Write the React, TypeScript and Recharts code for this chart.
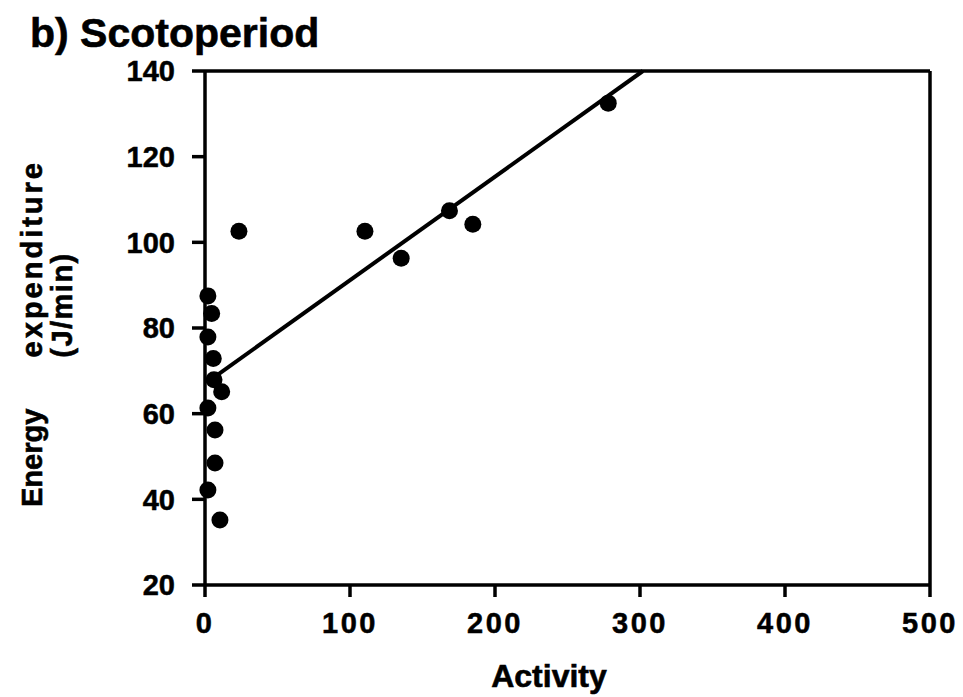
import React from "react";
import { ScatterChart, Scatter, XAxis, YAxis, ReferenceLine } from "recharts";

const activity = [2, 4.6, 2, 5.7, 6.2, 11.5, 2, 6.9, 6.9, 2, 10.3, 23.4, 110.3, 135.3, 168.6, 184.7, 278.1];
const energy = [87.5, 83.4, 77.9, 72.9, 67.9, 65.1, 61.3, 56.2, 48.5, 42.2, 35.2, 102.6, 102.6, 96.3, 107.4, 104.2, 132.5];
const fitActivity = [5.5, 302];
const fitEnergy = [68.3, 140];
const xTicks = [0, 100, 200, 300, 400, 500];
const yTicks = [20, 40, 60, 80, 100, 120, 140];

const points = activity.map((x, i) => ({ x, y: energy[i] }));
const fit = fitActivity.map((x, i) => ({ x, y: fitEnergy[i] }));

const FONT = "'Liberation Sans', Arial, Helvetica, sans-serif";

const Dot = (props: any) => <circle cx={props.cx} cy={props.cy} r={8.5} fill="#000" />;
const NoDot = () => <g />;

const textStyle = { stroke: "#000", strokeWidth: 0.6 };

export default function App() {
  return (
    <div style={{ position: "absolute", left: 0, top: 0, width: 963, height: 697, background: "#fff" }}>
      <ScatterChart width={963} height={697} margin={{ top: 71, right: 33, bottom: 52, left: 0 }}>
        <XAxis
          type="number"
          dataKey="x"
          domain={[0, 500]}
          ticks={xTicks}
          height={60}
          tickSize={12}
          tickMargin={15}
          axisLine={{ stroke: "#000", strokeWidth: 3.5 }}
          tickLine={{ stroke: "#000", strokeWidth: 3.5 }}
          tick={{ fill: "#000", fontSize: 29, fontWeight: 700, fontFamily: FONT, letterSpacing: 2.5, stroke: "#000", strokeWidth: 0.5 }}
          interval={0}
        />
        <YAxis
          type="number"
          dataKey="y"
          domain={[20, 140]}
          ticks={yTicks}
          width={205}
          tickSize={13}
          tickMargin={17}
          axisLine={{ stroke: "#000", strokeWidth: 3.5 }}
          tickLine={{ stroke: "#000", strokeWidth: 3.5 }}
          tick={{ fill: "#000", fontSize: 29, fontWeight: 700, fontFamily: FONT, stroke: "#000", strokeWidth: 0.5 }}
          interval={0}
        />
        <ReferenceLine y={140} stroke="#000" strokeWidth={3.5} />
        <ReferenceLine x={500} stroke="#000" strokeWidth={3.5} />
        <Scatter data={points} fill="#000" shape={Dot} isAnimationActive={false} />
        <Scatter
          data={fit}
          line={{ stroke: "#000", strokeWidth: 4 }}
          shape={NoDot}
          isAnimationActive={false}
        />
      </ScatterChart>
      <svg width={963} height={697} style={{ position: "absolute", left: 0, top: 0, pointerEvents: "none" }}>
        <text x={30} y={47} fontFamily={FONT} fontWeight={700} fontSize={41} fill="#000" style={textStyle}>
          b) Scotoperiod
        </text>
        <text
          x={42}
          y={507}
          transform="rotate(-90 42 507)"
          fontFamily={FONT}
          fontWeight={700}
          fontSize={29}
          fill="#000"
          textAnchor="start"
          style={textStyle}
        >
          Energy
        </text>
        <text
          x={42}
          y={160}
          transform="rotate(-90 42 160)"
          fontFamily={FONT}
          fontWeight={700}
          fontSize={29}
          fill="#000"
          textAnchor="end"
          letterSpacing={3}
          style={textStyle}
        >
          expenditure
        </text>
        <text
          x={72}
          y={305}
          transform="rotate(-90 72 305)"
          fontFamily={FONT}
          fontWeight={700}
          fontSize={29}
          fill="#000"
          textAnchor="middle"
          letterSpacing={1.5}
          style={textStyle}
        >
          (J/min)
        </text>
        <text x={549} y={687} fontFamily={FONT} fontWeight={700} fontSize={32} fill="#000" textAnchor="middle" style={textStyle}>
          Activity
        </text>
      </svg>
    </div>
  );
}
